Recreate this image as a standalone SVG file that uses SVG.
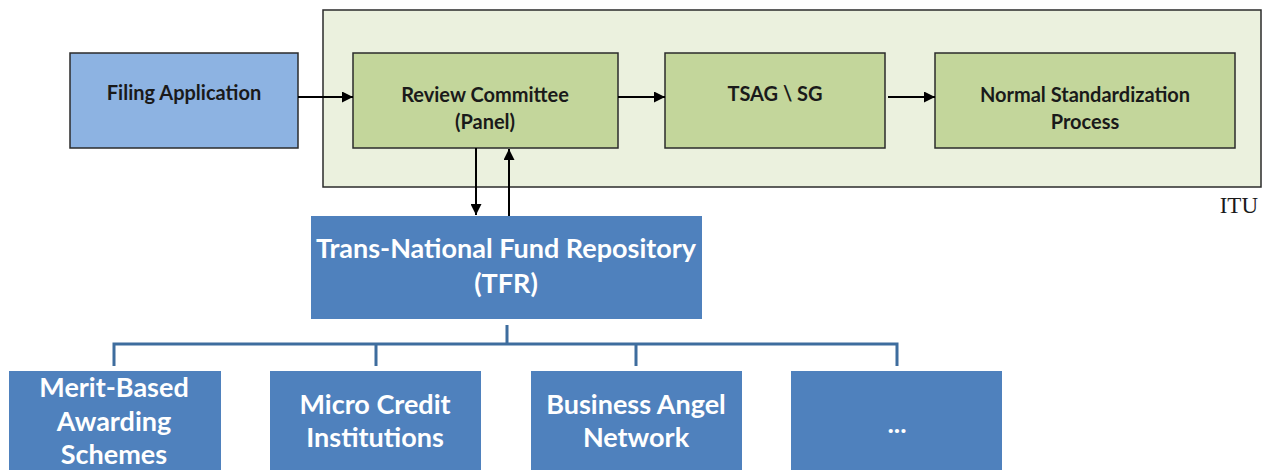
<svg xmlns="http://www.w3.org/2000/svg" width="1266" height="470" viewBox="0 0 1266 470">
  <style>
    .lbl { font-family: Lato, "Open Sans", "Liberation Sans", sans-serif; font-weight: bold; text-anchor: middle; }
    .dark { fill: #1a1a1a; font-size: 20px; }
    .light { fill: #ffffff; font-size: 27px; }
    .green { fill: #c3d69b; stroke: #2b2b2b; stroke-width: 1.5; }
    .blue { fill: #4f81bd; }
    .flow { stroke: #000000; stroke-width: 2; fill: none; marker-end: url(#arrow); }
    .tree { stroke: #3e6d9e; stroke-width: 3; fill: none; }
  </style>
  <defs>
    <marker id="arrow" viewBox="0 0 10 10" refX="10" refY="5" markerWidth="11" markerHeight="11" markerUnits="userSpaceOnUse" orient="auto">
      <path d="M0,0 L10,5 L0,10 z" fill="#000000"/>
    </marker>
  </defs>
  <rect width="1266" height="470" fill="#ffffff"/>

  <!-- ITU boundary -->
  <g id="itu">
    <rect x="323" y="10" width="938" height="177" fill="#ebf1de" stroke="#2b2b2b" stroke-width="1.5"/>
    <text x="1258" y="213" font-family="Liberation Serif, serif" font-size="23" text-anchor="end" fill="#1a1a1a">ITU</text>
  </g>

  <g id="filing">
    <rect x="70" y="53" width="228" height="95" fill="#8db3e2" stroke="#2b2b2b" stroke-width="1.5"/>
    <text class="lbl dark" x="184" y="100">Filing Application</text>
  </g>

  <g id="review">
    <rect class="green" x="353" y="53" width="265" height="95"/>
    <text class="lbl dark" x="485" y="102">Review Committee</text>
    <text class="lbl dark" x="485" y="129">(Panel)</text>
  </g>

  <g id="tsag">
    <rect class="green" x="665" y="53" width="220" height="95"/>
    <text class="lbl dark" x="775" y="101">TSAG \ SG</text>
  </g>

  <g id="normal">
    <rect class="green" x="935" y="53" width="300" height="95"/>
    <text class="lbl dark" x="1085" y="102">Normal Standardization</text>
    <text class="lbl dark" x="1085" y="129">Process</text>
  </g>

  <g id="tfr">
    <rect class="blue" x="311" y="216" width="391" height="103"/>
    <text class="lbl light" x="506" y="258">Trans-National Fund Repository</text>
    <text class="lbl light" x="506" y="293">(TFR)</text>
  </g>

  <g id="merit">
    <rect class="blue" x="9" y="371" width="212" height="110"/>
    <text class="lbl light" x="114" y="397">Merit-Based</text>
    <text class="lbl light" x="114" y="431">Awarding</text>
    <text class="lbl light" x="114" y="464">Schemes</text>
  </g>

  <g id="micro">
    <rect class="blue" x="270" y="371" width="211" height="110"/>
    <text class="lbl light" x="375" y="414">Micro Credit</text>
    <text class="lbl light" x="375" y="447">Institutions</text>
  </g>

  <g id="angel">
    <rect class="blue" x="531" y="371" width="211" height="110"/>
    <text class="lbl light" x="636" y="414">Business Angel</text>
    <text class="lbl light" x="636" y="447">Network</text>
  </g>

  <g id="more">
    <rect class="blue" x="791" y="371" width="211" height="110"/>
    <text class="lbl light" x="897" y="433">...</text>
  </g>

  <g id="connectors">
    <line class="flow" x1="298" y1="97" x2="353" y2="97"/>
    <line class="flow" x1="618" y1="97" x2="665" y2="97"/>
    <line class="flow" x1="888" y1="97" x2="935" y2="97"/>
    <line class="flow" x1="476" y1="148" x2="476" y2="215"/>
    <line class="flow" x1="509" y1="216" x2="509" y2="149"/>
    <path class="tree" d="M507,325 V344 M114,366 V344 H897 V366 M376,344 V366 M636,344 V366"/>
  </g>
</svg>
